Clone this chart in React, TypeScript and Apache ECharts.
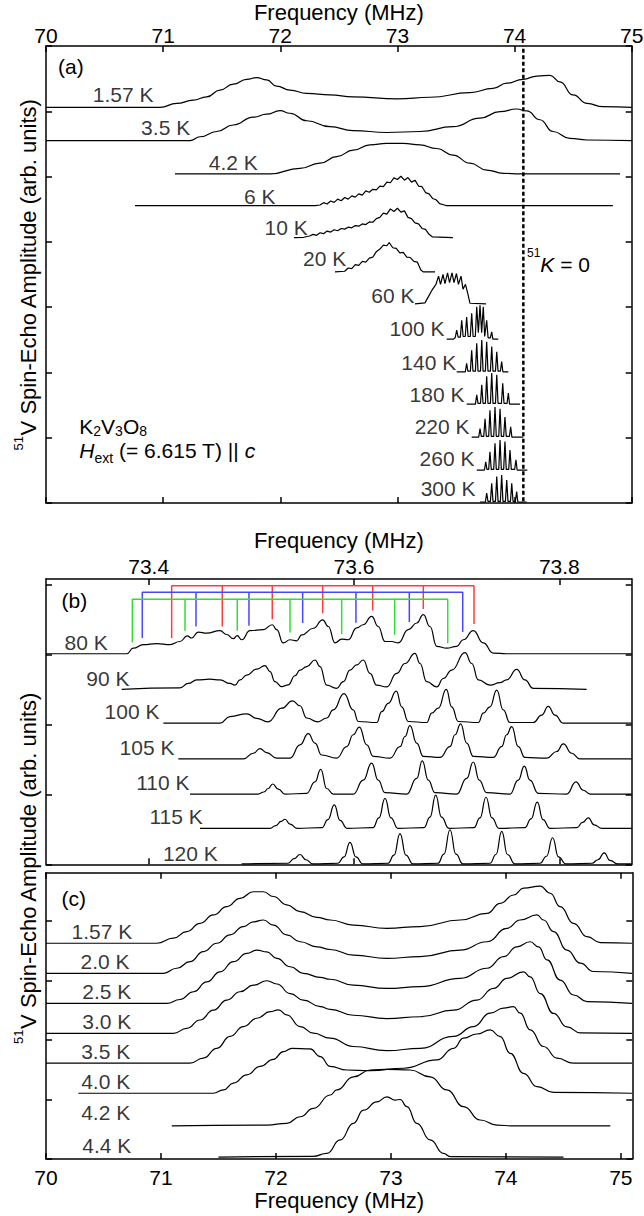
import React, { useEffect, useRef } from "react";
import * as echarts from "echarts";

const FONT = '"Liberation Sans", Arial, Helvetica, sans-serif';
const INK = "#000";

// ---------------- Panel (a): 70–75 MHz ----------------
const aTempLabels = ["1.57 K", "3.5 K", "4.2 K", "6 K", "10 K", "20 K", "60 K", "100 K", "140 K", "180 K", "220 K", "260 K", "300 K"];
const aBaselines = [12.12, 11.1, 10.08, 9.11, 8.13, 7.08, 6.1, 5.02, 4.02, 3.03, 2.02, 1.01, 0.03];
const aLabelPos = [
  [70.922, 12.52], [71.235, 11.5], [71.812, 10.43], [71.963, 9.4], [72.239, 8.44], [72.567, 7.48],
  [73.15, 6.37], [73.406, 5.35], [73.506, 4.3], [73.577, 3.31], [73.62, 2.34], [73.662, 1.37], [73.671, 0.43],
];
const aK0Freq = 74.075;

const a157K = [[70, 0], [70.973, 0], [71.116, 0.12], [71.257, 0.22], [71.372, 0.32], [71.485, 0.53], [71.599, 0.71], [71.713, 0.86], [71.799, 0.91], [71.884, 0.84], [71.969, 0.65], [72.083, 0.53], [72.226, 0.43], [72.424, 0.38], [72.621, 0.32], [73.002, 0.26], [73.278, 0.31], [73.62, 0.45], [73.816, 0.58], [73.935, 0.74], [74.072, 0.86], [74.192, 0.96], [74.303, 0.98], [74.388, 0.78], [74.499, 0.38], [74.619, 0.12], [74.755, 0.02], [75, 0]];
const a35K = [[70, 0], [71.229, 0], [71.315, 0.12], [71.457, 0.28], [71.599, 0.48], [71.77, 0.72], [71.884, 0.81], [71.998, 0.92], [72.083, 0.84], [72.226, 0.61], [72.424, 0.43], [72.621, 0.31], [72.909, 0.25], [73.193, 0.28], [73.474, 0.43], [73.705, 0.69], [73.876, 0.89], [74.018, 0.97], [74.104, 0.91], [74.217, 0.64], [74.328, 0.28], [74.473, 0.07], [74.619, 0.02], [75, 0]];
const a42K = [[71.101, 0], [71.912, 0], [72.168, 0.17], [72.339, 0.33], [72.482, 0.53], [72.623, 0.73], [72.766, 0.89], [72.908, 0.94], [73.05, 0.94], [73.193, 0.89], [73.335, 0.78], [73.474, 0.58], [73.62, 0.33], [73.762, 0.12], [73.904, 0.02], [74.046, 0], [74.9, 0]];
const a6K = [[70.76, 0], [72.3, 0], [72.339, 0.02], [72.37, 0.09], [72.4, 0.05], [72.43, 0.14], [72.46, 0.1], [72.49, 0.2], [72.52, 0.15], [72.55, 0.25], [72.58, 0.2], [72.61, 0.3], [72.64, 0.26], [72.67, 0.36], [72.7, 0.32], [72.73, 0.45], [72.76, 0.41], [72.79, 0.5], [72.82, 0.48], [72.85, 0.6], [72.88, 0.58], [72.91, 0.72], [72.94, 0.7], [72.97, 0.85], [73, 0.8], [73.03, 0.9], [73.06, 0.78], [73.09, 0.86], [73.12, 0.72], [73.15, 0.78], [73.18, 0.6], [73.21, 0.58], [73.24, 0.4], [73.27, 0.36], [73.3, 0.22], [73.33, 0.18], [73.36, 0.06], [73.4, 0.02], [73.42, 0], [74.84, 0]];
const a10K = [[72.117, 0], [72.2, 0.01], [72.25, 0.05], [72.28, 0.1], [72.31, 0.07], [72.34, 0.15], [72.37, 0.12], [72.4, 0.2], [72.43, 0.17], [72.46, 0.24], [72.49, 0.21], [72.52, 0.28], [72.55, 0.26], [72.58, 0.32], [72.61, 0.3], [72.64, 0.37], [72.67, 0.35], [72.7, 0.42], [72.73, 0.4], [72.76, 0.48], [72.79, 0.47], [72.82, 0.58], [72.85, 0.62], [72.88, 0.75], [72.91, 0.72], [72.94, 0.88], [72.97, 0.8], [73, 0.9], [73.03, 0.78], [73.06, 0.82], [73.09, 0.62], [73.12, 0.58], [73.15, 0.45], [73.18, 0.42], [73.21, 0.28], [73.24, 0.25], [73.27, 0.1], [73.3, 0.02], [73.474, 0]];
const a20K = [[72.467, 0], [72.55, 0.02], [72.58, 0.12], [72.61, 0.1], [72.64, 0.22], [72.67, 0.2], [72.7, 0.32], [72.73, 0.3], [72.76, 0.42], [72.79, 0.45], [72.82, 0.62], [72.85, 0.7], [72.88, 0.82], [72.91, 0.8], [72.93, 0.9], [72.96, 0.74], [72.99, 0.72], [73.02, 0.58], [73.05, 0.6], [73.08, 0.45], [73.11, 0.44], [73.14, 0.32], [73.17, 0.3], [73.2, 0.06], [73.22, 0], [73.321, 0]];
const a60K = [[73.15, 0], [73.235, 0.03], [73.261, 0.2], [73.295, 0.42], [73.329, 0.6], [73.351, 0.85], [73.368, 0.6], [73.389, 0.9], [73.406, 0.62], [73.428, 0.95], [73.445, 0.65], [73.466, 0.95], [73.483, 0.65], [73.504, 0.93], [73.521, 0.6], [73.543, 0.85], [73.56, 0.45], [73.581, 0.6], [73.602, 0.3], [73.619, 0.02], [73.756, 0]];
const a100K = [[73.421, 0], [73.48, 0], [73.494, 0.05], [73.506, 0.28], [73.518, 0.06], [73.537, 0.06], [73.549, 0.58], [73.561, 0.08], [73.579, 0.08], [73.591, 0.68], [73.603, 0.08], [73.622, 0.08], [73.634, 0.79], [73.646, 0.08], [73.665, 0.08], [73.677, 0.99], [73.691, 0.2], [73.705, 1.04], [73.719, 0.2], [73.733, 0.99], [73.745, 0.08], [73.75, 0.08], [73.762, 0.58], [73.774, 0.04], [73.793, 0.04], [73.805, 0.22], [73.815, 0], [73.861, 0]];
const a140K = [[73.506, 0], [73.58, 0], [73.591, 0.26], [73.601, 0.02], [73.623, 0.02], [73.634, 0.66], [73.645, 0.02], [73.666, 0.02], [73.677, 0.87], [73.688, 0.02], [73.709, 0.02], [73.72, 0.97], [73.731, 0.02], [73.751, 0.02], [73.762, 0.92], [73.773, 0.02], [73.794, 0.02], [73.805, 0.77], [73.816, 0.02], [73.837, 0.02], [73.848, 0.61], [73.859, 0.02], [73.879, 0.02], [73.89, 0.31], [73.9, 0], [73.947, 0]];
const a180K = [[73.591, 0], [73.666, 0], [73.677, 0.28], [73.688, 0.02], [73.709, 0.02], [73.72, 0.59], [73.731, 0.02], [73.751, 0.02], [73.762, 0.85], [73.773, 0.02], [73.794, 0.02], [73.805, 0.95], [73.816, 0.02], [73.837, 0.02], [73.848, 0.9], [73.859, 0.02], [73.888, 0.02], [73.899, 0.64], [73.91, 0.02], [73.936, 0.02], [73.947, 0.34], [73.957, 0], [74.046, 0]];
const a220K = [[73.634, 0], [73.694, 0], [73.705, 0.26], [73.716, 0.02], [73.737, 0.02], [73.748, 0.56], [73.759, 0.02], [73.779, 0.02], [73.79, 0.82], [73.801, 0.02], [73.822, 0.02], [73.833, 0.92], [73.844, 0.02], [73.865, 0.02], [73.876, 0.87], [73.887, 0.02], [73.907, 0.02], [73.918, 0.61], [73.929, 0.02], [73.956, 0.02], [73.967, 0.31], [73.977, 0], [74.075, 0]];
const a260K = [[73.677, 0], [73.743, 0], [73.754, 0.25], [73.764, 0.02], [73.779, 0.02], [73.79, 0.56], [73.801, 0.02], [73.822, 0.02], [73.833, 0.82], [73.844, 0.02], [73.865, 0.02], [73.876, 0.92], [73.887, 0.02], [73.907, 0.02], [73.918, 0.87], [73.929, 0.02], [73.95, 0.02], [73.961, 0.61], [73.972, 0.02], [74.001, 0.02], [74.012, 0.31], [74.022, 0], [74.109, 0]];
const a300K = [[73.705, 0], [73.751, 0], [73.762, 0.27], [73.773, 0.02], [73.794, 0.02], [73.805, 0.57], [73.816, 0.02], [73.837, 0.02], [73.848, 0.78], [73.859, 0.02], [73.879, 0.02], [73.89, 0.83], [73.901, 0.02], [73.922, 0.02], [73.933, 0.67], [73.944, 0.02], [73.965, 0.02], [73.976, 0.57], [73.987, 0.02], [74.007, 0.02], [74.018, 0.32], [74.028, 0], [74.104, 0]];
const aTraces = [a157K, a35K, a42K, a6K, a10K, a20K, a60K, a100K, a140K, a180K, a220K, a260K, a300K];
const aSmooth = [0.5, 0.5, 0.5, 0, 0, 0, 0, 0, 0, 0, 0, 0, 0];

// ---------------- Panel (b): 73.3–73.87 MHz ----------------
const bFreqTicks = [73.4, 73.6, 73.8];
const bTempLabels = ["80 K", "90 K", "100 K", "105 K", "110 K", "115 K", "120 K"];
const bBaselines = [6.03, 5.01, 4.04, 3.02, 2.01, 1.03, 0.01];
const bLabelPos = [[73.3607, 6.35], [73.3818, 5.33], [73.411, 4.37], [73.4256, 3.35], [73.4403, 2.34], [73.4532, 1.36], [73.4678, 0.3]];

const b80K = [[73.3, 0], [73.3786, 0], [73.385, 0.16], [73.3948, 0.26], [73.4078, 0.29], [73.4208, 0.26], [73.4305, 0.35], [73.4376, 0.51], [73.4419, 0.45], [73.4483, 0.62], [73.4565, 0.59], [73.4695, 0.66], [73.476, 0.55], [73.4824, 0.43], [73.4863, 0.52], [73.4906, 0.4], [73.4987, 0.66], [73.5116, 0.69], [73.5204, 0.83], [73.5247, 0.69], [73.5311, 0.31], [73.5377, 0.4], [73.5442, 0.37], [73.5491, 0.54], [73.5604, 0.73], [73.5695, 0.97], [73.575, 0.78], [73.5815, 0.31], [73.588, 0.42], [73.5944, 0.4], [73.6026, 0.74], [73.609, 0.83], [73.6172, 1.07], [73.6236, 0.78], [73.6302, 0.35], [73.6367, 0.35], [73.6431, 0.31], [73.6529, 0.69], [73.6611, 0.88], [73.6675, 1.12], [73.674, 0.78], [73.6806, 0.21], [73.6903, 0.16], [73.7, 0.21], [73.7065, 0.4], [73.7162, 0.66], [73.7259, 0.31], [73.7357, 0.02], [73.7487, 0], [73.8705, 0]];
const b90K = [[73.3737, 0], [73.4305, 0.04], [73.4386, 0.17], [73.4468, 0.27], [73.4597, 0.29], [73.4695, 0.27], [73.4792, 0.17], [73.4841, 0.12], [73.489, 0.27], [73.4955, 0.41], [73.5052, 0.58], [73.5133, 0.68], [73.5182, 0.51], [73.523, 0.22], [73.5296, 0.08], [73.536, 0.13], [73.5425, 0.39], [73.5474, 0.55], [73.5539, 0.65], [73.562, 0.84], [73.5669, 0.65], [73.5734, 0.12], [73.5831, 0.03], [73.5896, 0.22], [73.5961, 0.55], [73.6026, 0.7], [73.609, 0.84], [73.6156, 0.46], [73.6221, 0.12], [73.6318, 0.07], [73.6416, 0.46], [73.6497, 0.74], [73.6594, 1.03], [73.6643, 0.74], [73.6708, 0.22], [73.6806, 0.07], [73.687, 0.31], [73.6952, 0.55], [73.7081, 1.05], [73.7147, 0.74], [73.7211, 0.27], [73.7325, 0.12], [73.7422, 0.19], [73.7487, 0.27], [73.7585, 0.57], [73.7665, 0.27], [73.7746, 0.03], [73.8266, 0]];
const b100K = [[73.4143, 0], [73.4695, 0], [73.4792, 0.19], [73.4955, 0.27], [73.5052, 0.14], [73.5162, 0.04], [73.5296, 0.43], [73.5401, 0.64], [73.5474, 0.5], [73.5539, 0.15], [73.5649, 0.04], [73.5734, 0.15], [73.5798, 0.38], [73.5903, 0.85], [73.5992, 0.38], [73.6042, 0.05], [73.6221, 0.02], [73.627, 0.33], [73.6334, 0.57], [73.6412, 0.92], [73.6465, 0.47], [73.6529, 0.05], [73.6708, 0.02], [73.6757, 0.29], [73.6821, 0.43], [73.6899, 0.97], [73.6952, 0.47], [73.7016, 0.05], [73.7211, 0.02], [73.7259, 0.29], [73.7325, 0.47], [73.739, 0.95], [73.7454, 0.38], [73.7519, 0.02], [73.7746, 0.02], [73.7828, 0.23], [73.7892, 0.48], [73.7958, 0.23], [73.8039, 0], [73.8705, 0]];
const b105K = [[73.4289, 0], [73.4922, 0], [73.5019, 0.16], [73.5084, 0.29], [73.5149, 0.18], [73.5247, 0.02], [73.5377, 0.02], [73.5474, 0.4], [73.5555, 0.72], [73.562, 0.45], [73.5685, 0.11], [73.5831, 0.02], [73.5929, 0.35], [73.5993, 0.69], [73.6052, 0.91], [73.6124, 0.4], [73.6188, 0.07], [73.6351, 0.02], [73.6448, 0.35], [73.6497, 0.64], [73.6545, 0.95], [73.6611, 0.45], [73.6675, 0.07], [73.6838, 0.04], [73.6935, 0.35], [73.6984, 0.69], [73.7039, 1.0], [73.7098, 0.45], [73.7162, 0.07], [73.7357, 0.04], [73.7438, 0.35], [73.7487, 0.69], [73.7536, 0.92], [73.76, 0.35], [73.7665, 0.04], [73.7877, 0.02], [73.7974, 0.21], [73.8039, 0.43], [73.812, 0.16], [73.8201, 0], [73.8705, 0]];
const b110K = [[73.4403, 0], [73.5065, 0], [73.5123, 0.06], [73.5165, 0.16], [73.5208, 0.29], [73.5263, 0.14], [73.5328, 0], [73.5539, 0.02], [73.562, 0.35], [73.5676, 0.71], [73.5734, 0.16], [73.5798, 0], [73.5993, 0], [73.609, 0.4], [73.6172, 0.89], [73.6236, 0.4], [73.6302, 0.04], [73.6513, 0], [73.6611, 0.45], [73.6665, 0.95], [73.6724, 0.4], [73.6789, 0.04], [73.7, 0], [73.7098, 0.45], [73.7162, 0.92], [73.722, 0.4], [73.7292, 0.04], [73.7519, 0], [73.76, 0.4], [73.7659, 0.8], [73.7714, 0.4], [73.7795, 0.02], [73.8072, 0], [73.8162, 0.35], [73.8233, 0.11], [73.8299, 0], [73.8705, 0]];
const b115K = [[73.45, 0], [73.5182, 0], [73.524, 0.08], [73.5289, 0.2], [73.5328, 0.26], [73.5377, 0.12], [73.5445, 0], [73.5688, 0.02], [73.5746, 0.25], [73.5808, 0.67], [73.5864, 0.23], [73.5932, 0], [73.6185, 0.02], [73.6243, 0.3], [73.6302, 0.86], [73.636, 0.3], [73.6428, 0], [73.6682, 0.02], [73.674, 0.32], [73.6796, 0.95], [73.6852, 0.32], [73.6925, 0], [73.7169, 0.02], [73.7227, 0.3], [73.7286, 0.89], [73.7344, 0.3], [73.7412, 0], [73.7665, 0.02], [73.7724, 0.27], [73.7785, 0.75], [73.7841, 0.25], [73.7909, 0], [73.8172, 0.02], [73.8226, 0.17], [73.8283, 0.3], [73.8338, 0.1], [73.8416, 0], [73.8705, 0]];
const b120K = [[73.4906, 0], [73.5357, 0.02], [73.5416, 0.15], [73.5474, 0.27], [73.5532, 0.12], [73.56, 0], [73.5844, 0.02], [73.5903, 0.2], [73.5961, 0.62], [73.6019, 0.2], [73.6087, 0], [73.6331, 0.02], [73.639, 0.25], [73.6448, 0.87], [73.6506, 0.25], [73.6574, 0], [73.6818, 0.02], [73.6876, 0.28], [73.6935, 0.98], [73.6993, 0.28], [73.7061, 0], [73.7325, 0.02], [73.7383, 0.27], [73.7439, 0.93], [73.7495, 0.27], [73.7568, 0], [73.7812, 0.02], [73.7875, 0.22], [73.7935, 0.75], [73.7992, 0.2], [73.8065, 0], [73.8318, 0.02], [73.8376, 0.12], [73.8438, 0.32], [73.8493, 0.1], [73.8571, 0], [73.8705, 0]];
const bTraces = [b80K, b90K, b100K, b105K, b110K, b115K, b120K];

// satellite-line combs above the 80 K spectrum
const combRedFreq = [73.4224, 73.4717, 73.5204, 73.5695, 73.6182, 73.6675, 73.7169];
const combRedEnd = [6.48, 6.81, 7.02, 7.19, 7.27, 7.31, 6.88];
const combRedTop = 7.98;
const combBlueFreq = [73.3938, 73.4461, 73.4977, 73.55, 73.6019, 73.6539, 73.7059];
const combBlueEnd = [6.48, 6.81, 6.83, 6.91, 6.92, 6.94, 6.65];
const combBlueTop = 7.79;
const combGreenFreq = [73.3841, 73.4354, 73.4863, 73.5377, 73.588, 73.6396, 73.6913];
const combGreenEnd = [6.35, 6.69, 6.69, 6.64, 6.59, 6.57, 6.33];
const combGreenTop = 7.59;

// ---------------- Panel (c): 70–75.1 MHz ----------------
const cFreqTicks = [70, 71, 72, 73, 74, 75];
const cTempLabels = ["1.57 K", "2.0 K", "2.5 K", "3.0 K", "3.5 K", "4.0 K", "4.2 K", "4.4 K"];
const cBaselines = [7.25, 6.24, 5.23, 4.22, 3.22, 2.21, 1.11, 0.06];
const cLabelPos = [[70.755, 7.64], [70.731, 6.63], [70.746, 5.62], [70.746, 4.62], [70.737, 3.61], [70.737, 2.6], [70.737, 1.56], [70.746, 0.47]];

const c157K = [[70, 0], [70.963, 0], [71.108, 0.17], [71.225, 0.39], [71.34, 0.67], [71.456, 0.95], [71.573, 1.23], [71.688, 1.51], [71.804, 1.73], [71.891, 1.73], [71.978, 1.57], [72.095, 1.29], [72.211, 1.06], [72.356, 0.87], [72.472, 0.78], [72.674, 0.61], [72.965, 0.5], [73.255, 0.56], [73.603, 0.78], [73.836, 1.0], [73.951, 1.34], [74.067, 1.62], [74.154, 1.85], [74.299, 1.92], [74.386, 1.68], [74.473, 1.23], [74.589, 0.67], [74.706, 0.22], [74.822, 0.02], [75.097, 0]];
const c20K = [[70, 0], [71.021, 0], [71.138, 0.17], [71.253, 0.39], [71.369, 0.73], [71.486, 1.01], [71.601, 1.29], [71.717, 1.57], [71.804, 1.73], [71.891, 1.79], [71.978, 1.62], [72.095, 1.29], [72.211, 1.06], [72.356, 0.89], [72.472, 0.8], [72.674, 0.61], [72.965, 0.5], [73.255, 0.56], [73.603, 0.78], [73.836, 1.06], [74.01, 1.51], [74.125, 1.79], [74.271, 1.96], [74.328, 1.79], [74.415, 1.4], [74.532, 0.78], [74.648, 0.34], [74.763, 0.06], [75.097, 0]];
const c25K = [[70, 0], [71.05, 0], [71.166, 0.13], [71.282, 0.39], [71.399, 0.72], [71.514, 1.06], [71.63, 1.4], [71.747, 1.68], [71.834, 1.79], [71.921, 1.73], [72.008, 1.51], [72.124, 1.23], [72.239, 1.01], [72.385, 0.87], [72.472, 0.81], [72.674, 0.61], [72.965, 0.5], [73.255, 0.56], [73.603, 0.84], [73.836, 1.18], [73.98, 1.57], [74.096, 1.9], [74.212, 2.07], [74.285, 1.9], [74.358, 1.46], [74.473, 0.78], [74.589, 0.28], [74.706, 0.06], [75.097, 0]];
const c30K = [[70, 0], [71.108, 0], [71.225, 0.17], [71.34, 0.45], [71.456, 0.78], [71.573, 1.12], [71.688, 1.4], [71.804, 1.62], [71.921, 1.77], [72.008, 1.66], [72.124, 1.34], [72.239, 1.12], [72.385, 0.9], [72.472, 0.81], [72.674, 0.61], [72.965, 0.5], [73.255, 0.56], [73.545, 0.78], [73.748, 1.12], [73.893, 1.51], [74.01, 1.85], [74.154, 2.07], [74.212, 1.9], [74.299, 1.34], [74.415, 0.67], [74.532, 0.22], [74.648, 0.02], [75.097, 0]];
const c35K = [[70, 0], [71.253, 0], [71.369, 0.17], [71.486, 0.5], [71.601, 0.9], [71.717, 1.23], [71.834, 1.51], [71.95, 1.73], [72.022, 1.79], [72.095, 1.62], [72.211, 1.23], [72.326, 1.01], [72.472, 0.84], [72.674, 0.56], [72.965, 0.42], [73.255, 0.5], [73.545, 0.9], [73.719, 1.23], [73.864, 1.68], [73.98, 1.85], [74.067, 1.9], [74.125, 1.68], [74.212, 1.12], [74.328, 0.56], [74.445, 0.17], [74.589, 0], [75.097, 0]];
const c40K = [[70.281, 0], [71.456, 0], [71.543, 0.11], [71.63, 0.34], [71.747, 0.62], [71.863, 0.9], [71.978, 1.14], [72.065, 1.4], [72.138, 1.51], [72.298, 1.49], [72.385, 1.23], [72.472, 0.9], [72.617, 0.78], [72.82, 0.76], [73.11, 0.84], [73.4, 1.12], [73.545, 1.51], [73.632, 1.85], [73.748, 1.99], [73.864, 2.13], [73.951, 1.9], [74.038, 1.34], [74.154, 0.67], [74.271, 0.22], [74.415, 0.03], [75.097, 0]];
const c42K = [[71.094, 0], [71.921, 0.03], [72.095, 0.09], [72.211, 0.31], [72.326, 0.59], [72.472, 1.04], [72.53, 1.21], [72.674, 1.65], [72.82, 1.88], [72.965, 1.9], [73.168, 1.88], [73.342, 1.65], [73.487, 1.21], [73.632, 0.65], [73.777, 0.2], [73.922, 0.03], [74.067, 0], [74.909, 0]];
const c44K = [[71.5, 0], [72.324, 0.03], [72.443, 0.13], [72.559, 0.58], [72.674, 1.14], [72.761, 1.58], [72.878, 1.86], [72.965, 2.03], [73.037, 1.92], [73.081, 1.94], [73.139, 1.7], [73.226, 1.14], [73.342, 0.58], [73.458, 0.13], [73.516, 0.02], [74.502, 0]];
const cTraces = [c157K, c20K, c25K, c30K, c35K, c40K, c42K, c44K];

// ---------------- helpers ----------------
function traceSeries(xi: number, yi: number, base: number, pts: number[][], smooth: number | boolean) {
  return {
    type: "line",
    xAxisIndex: xi,
    yAxisIndex: yi,
    data: pts.map((p) => [p[0], +(base + p[1]).toFixed(4)]),
    symbol: "none",
    showSymbol: false,
    silent: true,
    smooth: smooth,
    smoothMonotone: "x",
    lineStyle: { color: INK, width: 1.2 },
    z: 3,
  };
}

function combSeries(freqs: number[], ends: number[], top: number, color: string) {
  const data: number[][] = [[freqs[0], ends[0]], [freqs[0], top]];
  for (let i = 1; i < freqs.length; i++) {
    data.push([freqs[i], top], [freqs[i], ends[i]]);
    if (i < freqs.length - 1) data.push([freqs[i], top]);
  }
  return {
    type: "line",
    xAxisIndex: 2,
    yAxisIndex: 2,
    data,
    symbol: "none",
    showSymbol: false,
    silent: true,
    lineStyle: { color, width: 1.5 },
    z: 2,
  };
}

function labelSeries(xi: number, yi: number, names: string[], pos: number[][]) {
  return {
    type: "scatter",
    xAxisIndex: xi,
    yAxisIndex: yi,
    symbolSize: 1,
    silent: true,
    itemStyle: { color: "rgba(0,0,0,0)" },
    data: names.map((n, i) => ({ name: n, value: [pos[i][0], pos[i][1]] })),
    label: {
      show: true,
      position: "left",
      distance: 0,
      formatter: "{b}",
      color: "#000",
      fontSize: 21,
      fontFamily: FONT,
    },
    z: 5,
  };
}

const axisLine = { show: true, onZero: false, lineStyle: { color: "#000", width: 1.5 } };
function ticks(vals?: number[]) {
  const t: any = { show: true, inside: true, length: 6, lineStyle: { color: "#000", width: 1.5 } };
  if (vals) t.customValues = vals;
  return t;
}
const labelStyle = { fontSize: 21, fontFamily: FONT, color: "#000" };
const nameStyle = { fontSize: 22, fontFamily: FONT, color: "#000" };
const noLabel = { show: false };
const noSplit = { show: false };

export default function App() {
  const ref = useRef<HTMLDivElement>(null);

  useEffect(() => {
    document.body.style.margin = "0";
    const chart = echarts.init(ref.current as HTMLDivElement, null, { renderer: "svg" });

    const series: any[] = [];
    aTraces.forEach((t, i) => series.push(traceSeries(0, 0, aBaselines[i], t, aSmooth[i] || false)));
    series.push({
      type: "line",
      xAxisIndex: 0,
      yAxisIndex: 0,
      data: [[aK0Freq, 0.05], [aK0Freq, 14]],
      symbol: "none",
      silent: true,
      lineStyle: { color: "#000", width: 2.5, type: [4, 2.5] },
      z: 4,
    });
    series.push(labelSeries(0, 0, aTempLabels, aLabelPos));

    series.push(combSeries(combRedFreq, combRedEnd, combRedTop, "#ff3b3b"));
    series.push(combSeries(combBlueFreq, combBlueEnd, combBlueTop, "#4646ff"));
    series.push(combSeries(combGreenFreq, combGreenEnd, combGreenTop, "#2fe02f"));
    bTraces.forEach((t, i) => series.push(traceSeries(2, 2, bBaselines[i], t, 0.5)));
    series.push(labelSeries(2, 2, bTempLabels, bLabelPos));

    cTraces.forEach((t, i) => series.push(traceSeries(5, 4, cBaselines[i], t, 0.5)));
    series.push(labelSeries(5, 4, cTempLabels, cLabelPos));

    const yTitleRich = {
      sup: { fontSize: 13, lineHeight: 13, verticalAlign: "top", fontFamily: FONT, fill: "#000" },
    };

    chart.setOption({
      animation: false,
      backgroundColor: "#fff",
      grid: [
        { left: 46, top: 46, width: 585.7, height: 457, outerBoundsMode: "none" },
        { left: 46, top: 579, width: 585.7, height: 285.3, outerBoundsMode: "none" },
        { left: 46, top: 872.7, width: 586.3, height: 286.3, outerBoundsMode: "none" },
      ],
      xAxis: [
        {
          gridIndex: 0, type: "value", position: "top", min: 70, max: 75, interval: 1,
          axisLine, axisTick: ticks(), splitLine: noSplit,
          axisLabel: { show: true, margin: 0, ...labelStyle },
          name: "Frequency (MHz)", nameLocation: "middle", nameGap: 23, nameTextStyle: nameStyle,
        },
        {
          gridIndex: 0, type: "value", position: "bottom", min: 70, max: 75, interval: 1,
          axisLine, axisTick: ticks(), splitLine: noSplit, axisLabel: noLabel,
        },
        {
          gridIndex: 1, type: "value", position: "top", min: 73.3, max: 73.8705,
          axisLine, axisTick: ticks(bFreqTicks), splitLine: noSplit,
          axisLabel: { show: true, margin: 2.5, customValues: bFreqTicks, formatter: (v: number) => v.toFixed(1), ...labelStyle },
          name: "Frequency (MHz)", nameLocation: "middle", nameGap: 27.5, nameTextStyle: nameStyle,
        },
        {
          gridIndex: 1, type: "value", position: "bottom", min: 73.3, max: 73.8705,
          axisLine, axisTick: ticks(bFreqTicks), splitLine: noSplit, axisLabel: noLabel,
        },
        {
          gridIndex: 2, type: "value", position: "top", min: 70, max: 75.1,
          axisLine, axisTick: ticks(cFreqTicks), splitLine: noSplit, axisLabel: noLabel,
        },
        {
          gridIndex: 2, type: "value", position: "bottom", min: 70, max: 75.1,
          axisLine, axisTick: ticks(cFreqTicks), splitLine: noSplit,
          axisLabel: { show: true, margin: 8, customValues: cFreqTicks, formatter: (v: number) => String(Math.round(v)), ...labelStyle },
          name: "Frequency (MHz)", nameLocation: "middle", nameGap: 30, nameTextStyle: nameStyle,
        },
      ],
      yAxis: [
        { gridIndex: 0, type: "value", position: "left", min: 0, max: 14, interval: 2, axisLine, axisTick: ticks(), splitLine: noSplit, axisLabel: noLabel },
        { gridIndex: 0, type: "value", position: "right", min: 0, max: 14, interval: 2, axisLine, axisTick: ticks(), splitLine: noSplit, axisLabel: noLabel },
        { gridIndex: 1, type: "value", position: "left", min: 0, max: 8.17, axisLine, axisTick: ticks([0, 2, 4, 6, 8]), splitLine: noSplit, axisLabel: noLabel },
        { gridIndex: 1, type: "value", position: "right", min: 0, max: 8.17, axisLine, axisTick: ticks([0, 2, 4, 6, 8]), splitLine: noSplit, axisLabel: noLabel },
        { gridIndex: 2, type: "value", position: "left", min: 0, max: 9.62, axisLine, axisTick: ticks([0, 2, 4, 6, 8]), splitLine: noSplit, axisLabel: noLabel },
        { gridIndex: 2, type: "value", position: "right", min: 0, max: 9.62, axisLine, axisTick: ticks([0, 2, 4, 6, 8]), splitLine: noSplit, axisLabel: noLabel },
      ],
      graphic: [
        {
          type: "text", x: 28, y: 274.5, rotation: Math.PI / 2, silent: true,
          style: {
            text: "{sup|51}V Spin-Echo Amplitude (arb. units)", fontSize: 22, fontFamily: FONT, fill: "#000",
            align: "center", verticalAlign: "middle", lineHeight: 32, rich: yTitleRich,
          },
        },
        {
          type: "text", x: 28, y: 868, rotation: Math.PI / 2, silent: true,
          style: {
            text: "{sup|51}V Spin-Echo Amplitude (arb. units)", fontSize: 22, fontFamily: FONT, fill: "#000",
            align: "center", verticalAlign: "middle", lineHeight: 32, rich: yTitleRich,
          },
        },
        { type: "text", x: 58, y: 66.5, silent: true, style: { text: "(a)", fontSize: 21, fontFamily: FONT, fill: "#000", align: "left", verticalAlign: "middle" } },
        { type: "text", x: 61.5, y: 600.5, silent: true, style: { text: "(b)", fontSize: 21, fontFamily: FONT, fill: "#000", align: "left", verticalAlign: "middle" } },
        { type: "text", x: 61.5, y: 898.3, silent: true, style: { text: "(c)", fontSize: 21, fontFamily: FONT, fill: "#000", align: "left", verticalAlign: "middle" } },
        {
          type: "text", x: 79.3, y: 426, silent: true,
          style: {
            text: "K{sub|2}V{sub|3}O{sub|8}", fontSize: 21, fontFamily: FONT, fill: "#000",
            align: "left", verticalAlign: "middle", lineHeight: 24,
            rich: { sub: { fontSize: 14, lineHeight: 14, verticalAlign: "bottom", fontFamily: FONT, fill: "#000" } },
          },
        },
        {
          type: "text", x: 79.3, y: 450, silent: true,
          style: {
            text: "{it|H}{sub|ext} (= 6.615 T) || {it|c}", fontSize: 21, fontFamily: FONT, fill: "#000",
            align: "left", verticalAlign: "middle", lineHeight: 30,
            rich: {
              it: { fontStyle: "italic", fontSize: 21, fontFamily: FONT, fill: "#000" },
              sub: { fontSize: 14, lineHeight: 14, verticalAlign: "bottom", fontFamily: FONT, fill: "#000" },
            },
          },
        },
        {
          type: "text", x: 527, y: 264, silent: true,
          style: {
            text: "{sup|51}{it|K} = 0", fontSize: 21, fontFamily: FONT, fill: "#000",
            align: "left", verticalAlign: "middle", lineHeight: 34,
            rich: {
              sup: { fontSize: 12, lineHeight: 12, verticalAlign: "top", fontFamily: FONT, fill: "#000" },
              it: { fontStyle: "italic", fontSize: 21, fontFamily: FONT, fill: "#000" },
            },
          },
        },
      ],
      series,
    });

    return () => chart.dispose();
  }, []);

  return (
    <div
      ref={ref}
      style={{ position: "absolute", left: 0, top: 0, width: 644, height: 1216, overflow: "hidden" }}
    />
  );
}
